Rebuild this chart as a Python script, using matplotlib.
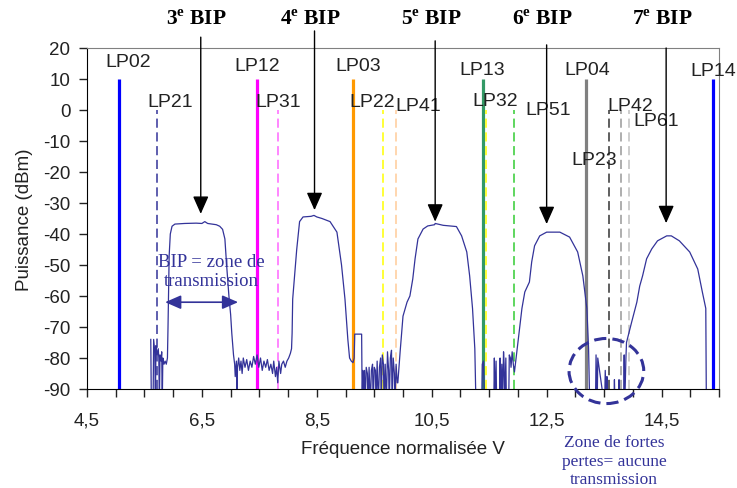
import matplotlib
matplotlib.use('Agg')
from matplotlib import pyplot as plt
from matplotlib.patches import Ellipse
from matplotlib.ticker import FixedLocator, FuncFormatter

# transmission spectrum: normalised frequency V / power (dBm)
# values below -90 are dips that leave the plot
spec_v = [5.61, 5.62, 5.65, 5.66, 5.68, 5.69, 5.70, 5.72, 5.74, 5.75, 5.76, 5.77, 5.79, 5.80, 5.81,
          5.82, 5.84, 5.86, 5.88,
          5.90, 5.91, 5.92, 5.93, 5.95, 5.98, 6.03, 6.20, 6.40, 6.50, 6.55, 6.60, 6.75, 6.81, 6.86,
          6.90, 6.93, 6.97, 7.00, 7.02, 7.05,
          7.07, 7.08, 7.10, 7.11, 7.12, 7.14, 7.16, 7.18, 7.20, 7.22, 7.25, 7.28, 7.31, 7.34, 7.37,
          7.40, 7.43, 7.46, 7.49, 7.52, 7.55, 7.58, 7.61, 7.64, 7.67, 7.70, 7.73, 7.75, 7.78, 7.80,
          7.82, 7.84, 7.87, 7.89, 7.92, 7.95, 7.98, 8.01, 8.04, 8.06,
          8.07, 8.08, 8.15, 8.20, 8.26, 8.40, 8.45, 8.50, 8.59, 8.73, 8.85, 8.93, 8.99, 9.04, 9.07,
          9.10, 9.13, 9.15, 9.16, 9.28, 9.29,
          9.30, 9.31, 9.33, 9.34, 9.36, 9.38, 9.39, 9.41, 9.43, 9.45, 9.47, 9.48, 9.50, 9.52, 9.53,
          9.55, 9.57, 9.59, 9.61, 9.62, 9.64, 9.66, 9.67, 9.69, 9.71, 9.73, 9.75, 9.76, 9.78, 9.80,
          9.81, 9.83, 9.85, 9.86, 9.88, 9.90,
          9.91, 9.95, 10.00, 10.07, 10.12, 10.17, 10.21, 10.26, 10.35, 10.43, 10.55, 10.56, 10.70,
          10.93, 11.02, 11.11, 11.16, 11.21, 11.25, 11.27,
          11.37, 11.38, 11.40, 11.42, 11.58, 11.59, 11.60, 11.62, 11.63, 11.68, 11.69, 11.70, 11.72,
          11.73, 11.75, 11.76, 11.77, 11.79, 11.80, 11.84, 11.85, 11.87, 11.88, 11.90, 11.92,
          11.94, 12.00, 12.07, 12.12, 12.20, 12.24, 12.29, 12.38, 12.50, 12.73, 12.90, 13.04, 13.13,
          13.20, 13.23, 13.25,
          13.35, 13.36, 13.38, 13.39, 13.48, 13.51, 13.52, 13.54, 13.55, 13.56, 13.67, 13.68, 13.69,
          13.75, 13.76, 13.77, 13.84, 13.85, 13.86, 13.88,
          13.89, 13.98, 14.07, 14.12, 14.17, 14.24, 14.33, 14.43, 14.59, 14.67, 14.81, 14.99, 15.13,
          15.21, 15.27, 15.28]
spec_p = [-74, -95, -95, -74, -78, -95, -76, -79, -77, -80, -95, -79, -81, -78, -95,
          -80, -82, -81, -82,
          -80, -70, -58, -47, -40, -37.5, -36.8, -36.6, -36.5, -36.6, -36.0, -36.6, -37, -37.5, -38.5,
          -41.6, -50, -60, -66, -72, -79,
          -82, -86, -81, -90, -83, -80, -84, -81, -85, -80, -83, -80.5, -84, -81, -83,
          -79.5, -82, -79, -83, -80, -84, -81, -83, -80.5, -84, -82, -85, -81, -86, -83,
          -88, -81, -85, -82, -81, -83, -81, -80, -78.5, -77,
          -72, -61, -45, -36, -34.5, -34.3, -34.0, -34.5, -35, -36, -39.4, -50, -61, -74, -80,
          -81, -81.5, -80, -72.3, -72.3, -95,
          -84, -95, -84, -95, -83, -85, -95, -83, -95, -84, -82, -95, -83, -84, -95,
          -81, -95, -83, -80, -95, -79, -82, -95, -82, -95, -78, -84, -95, -80, -77.5,
          -95, -80, -85, -95, -82, -88,
          -88, -78, -66.5, -62, -60, -54.5, -48, -41.6, -38.4, -37.4, -37.0, -36.6, -37.2,
          -37.6, -40.6, -45.8, -53.5, -64, -77, -95,
          -95, -82, -81, -95, -95, -80, -95, -81, -95, -95, -80, -95, -82,
          -95, -78, -82, -95, -80, -95, -95, -79, -80, -83, -78, -82,
          -84.5, -75, -64, -58.7, -55.5, -49, -43.8, -40.6, -39.4, -39.4, -41, -45.8, -53.5,
          -64, -77, -95,
          -95, -79, -95, -80, -92, -95, -84, -95, -86, -95, -95, -87, -95,
          -95, -87, -95, -95, -79, -95, -80,
          -75, -68.4, -62, -56.8, -53.5, -48, -44.8, -42.2, -40.6, -40.6, -42.2, -45.8, -51.3,
          -58.7, -64, -95]

# mode cut-off lines
cut_v = [5.06, 5.72, 7.46, 7.82, 9.13, 9.65, 9.87, 11.40, 11.44, 11.93, 13.18, 13.58, 13.80, 13.94, 15.39]
cut_top = [10, 0, 10, 0, 10, 0, 0, 10, 0, 0, 10, 0, 0, 0, 10]
cut_color = ['#0000FF', '#333399', '#FF00FF', '#FF66FF', '#FF9900', '#FFFF00', '#FFCC99', '#339966',
             '#FFFF00', '#33CC33', '#808080', '#333333', '#999999', '#C0C0C0', '#0000FF']

mode_names = ['LP02', 'LP21', 'LP12', 'LP31', 'LP03', 'LP22', 'LP41', 'LP13', 'LP32', 'LP51',
              'LP04', 'LP23', 'LP42', 'LP61', 'LP14']
mode_xy = [(5.21, 15.8), (5.94, 2.9), (7.46, 14.2), (7.83, 2.9), (9.22, 14.5), (9.46, 2.9),
           (10.26, 1.3), (11.37, 13.2), (11.6, 3.2), (12.52, 0.0), (13.2, 13.2), (13.33, -16.1),
           (13.96, 1.6), (14.4, -3.5), (15.4, 12.6)]

# photonic band-gap labels and the top of each band
bip_order = ['3', '4', '5', '6', '7']
bip_v = [6.48, 8.46, 10.56, 12.50, 14.58]
bip_tip = [-33.5, -32.3, -36.0, -36.8, -36.5]
bip_start = [23.5, 25.5, 22.3, 21.0, 20.0]

x_ticks = [4.5 + 0.5 * i for i in range(23)]
x_labels = ['4,5', '6,5', '8,5', '10,5', '12,5', '14,5']

navy = '#333399'

plt.rcParams['font.family'] = 'Liberation Sans'
plt.rcParams['axes.unicode_minus'] = False
plt.rcParams['mathtext.fontset'] = 'custom'
plt.rcParams['mathtext.bf'] = 'Liberation Serif:bold'
plt.rcParams['mathtext.rm'] = 'Liberation Serif:bold'

fig = plt.figure(figsize=(7.37, 4.89), dpi=100)
ax = fig.add_axes([87 / 737, 1 - 390 / 489, 632 / 737, 341 / 489])

for v, top, c in zip(cut_v, cut_top, cut_color):
    if top == 10:
        ax.plot([v, v], [-90, top], color=c, lw=2.3, solid_capstyle='butt', zorder=2)
    else:
        ax.plot([v, v], [-90, top], color=c, lw=1.1, linestyle=(0, (6, 3)), zorder=2)

ax.plot(spec_v, spec_p, color=navy, lw=0.9, zorder=3)

for name, (x, y) in zip(mode_names, mode_xy):
    ax.text(x, y, name, fontsize=14, ha='center', va='center', color='#222222', clip_on=False)

for n, v, tip, start in zip(bip_order, bip_v, bip_tip, bip_start):
    ax.annotate('', xy=(v, tip), xytext=(v, start), annotation_clip=False,
                arrowprops=dict(arrowstyle='-|>,head_length=0.9,head_width=0.4', color='black',
                                lw=1, shrinkA=0, shrinkB=0, mutation_scale=12))
    ax.text(v - 0.07, 29.3, n + r'$^{\mathbf{e}}$ BIP', fontsize=15.5, fontweight='bold',
            family='Liberation Serif', ha='center', va='center', clip_on=False)

# band-gap width annotation
ax.annotate('', xy=(5.86, -62), xytext=(7.13, -62),
            arrowprops=dict(arrowstyle='<|-|>,head_length=0.8,head_width=0.35', color=navy,
                            lw=1.2, shrinkA=0, shrinkB=0, mutation_scale=12))
ax.text(6.66, -51.8, 'BIP = zone de\ntransmission', fontsize=13.5, family='Liberation Serif',
        color=navy, ha='center', va='center', linespacing=1.15)

# high-loss zone
ax.add_patch(Ellipse((13.54, -84.2), 1.30, 21, fill=False, ec=navy, lw=2.2,
                     linestyle=(0, (4, 2)), clip_on=False, zorder=4))
fig.text(614 / 737, 1 / 489, 'Zone de fortes\npertes= aucune\ntransmission', fontsize=12.5,
         family='Liberation Serif', color=navy, ha='center', va='bottom', linespacing=1.2)

ax.set_xlim(4.5, 15.5)
ax.set_ylim(-90, 20)
ax.xaxis.set_major_locator(FixedLocator(x_ticks))
ax.xaxis.set_major_formatter(FuncFormatter(
    lambda v, pos: x_labels[int(round((v - 4.5) / 2))] if abs((v - 4.5) / 2 - round((v - 4.5) / 2)) < 1e-6 else ''))
ax.set_yticks(range(-90, 21, 10))
ax.tick_params(direction='out', length=6, width=1, labelsize=13.5, colors='#222222')
ax.tick_params(axis='x', pad=10)
ax.tick_params(axis='y', pad=6)
for side in ['left', 'bottom']:
    ax.spines[side].set_color('black')
for side in ['top', 'right']:
    ax.spines[side].set_color('#808080')

ax.set_xlabel('Fréquence normalisée V', fontsize=13.5, color='#222222')
ax.set_ylabel('Puissance (dBm)', fontsize=13.5, color='#222222')
ax.xaxis.set_label_coords(0.5, -0.15)
ax.yaxis.set_label_coords(-0.085, 0.5)

fig.savefig('out.png', dpi=100)
